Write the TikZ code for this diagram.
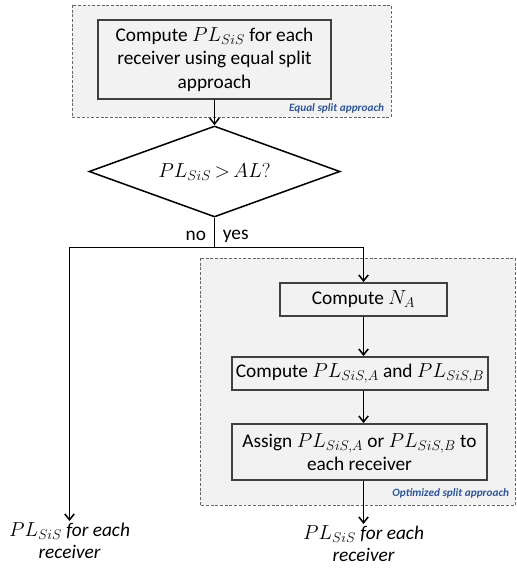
\documentclass[tikz,border=0pt]{standalone}
\usepackage{fontspec}
\setmainfont{Carlito}
\usetikzlibrary{shapes.geometric, arrows.meta}
\definecolor{regiongray}{RGB}{242,242,242}
\definecolor{boxedge}{RGB}{64,64,64}
\definecolor{tagblue}{RGB}{47,85,151}

\begin{document}
\begin{tikzpicture}[x=0.03cm, y=-0.03cm, >={Straight Barb[length=5pt,width=8pt]}, line width=1.3pt,
    every node/.style={font=\fontsize{16.5}{20}\selectfont},
    region/.style={draw=gray!80!black, fill=regiongray, line width=0.8pt, dash pattern=on 2.5pt off 1.5pt},
    procbox/.style={draw=boxedge, fill=regiongray, line width=1.6pt, align=center, inner sep=0pt},
    decision/.style={diamond, draw=black, line width=1.3pt, aspect=2.76, inner sep=0pt},
    regiontag/.style={font=\fontsize{9.6}{11}\selectfont\bfseries\itshape, text=tagblue, anchor=east, inner sep=1pt},
    result/.style={font=\fontsize{16.5}{18.7}\selectfont\itshape, align=center, inner sep=1pt},
    branchtag/.style={inner sep=1pt}]
    \useasboundingbox (0,0) rectangle (517,571);

    % 1. dashed regions of the two approaches
    \draw[region] (72,5) rectangle (391,117);
    \draw[region] (200,258) rectangle (515,505);
    \node[regiontag] (equalTag) at (386,108) {Equal split approach};
    \node[regiontag] (optTag) at (511,493) {Optimized split approach};

    % 2. equal split and the test
    \node[procbox, minimum width=6.99cm, minimum height=2.37cm] (equal) at (214.5,59.5)
        {Compute $PL_{SiS}$ for each\\receiver using equal split\\approach};
    \node[decision, minimum width=7.53cm, minimum height=2.73cm] (check) at (214.5,171.5)
        {\fontsize{18}{20}\selectfont$PL_{SiS}\,{>}\,AL?$};

    % 3. branch point
    \coordinate (fork) at (214.5,247.5);
    \coordinate (noTurn) at (69.5,247.5);
    \coordinate (yesTurn) at (363.5,247.5);
    \node[branchtag, anchor=east] (noTag) at (208,236) {no};
    \node[branchtag, anchor=west] (yesTag) at (221,236) {yes};

    % 4. optimized split steps
    \node[procbox, minimum width=5.01cm, minimum height=0.99cm] (na) at (363.5,299.5) {Compute $N_A$};
    \node[procbox, minimum width=7.68cm, minimum height=0.99cm] (pl) at (360,373.5)
        {Compute $PL_{SiS,A}$ and $PL_{SiS,B}$};
    \node[procbox, minimum width=7.65cm, minimum height=1.68cm] (assign) at (359.5,452)
        {Assign $PL_{SiS,A}$ or $PL_{SiS,B}$ to\\each receiver};

    % 5. results
    \node[result, anchor=north] (outNo) at (69.5,521) {$PL_{SiS}$ for each\\receiver};
    \node[result, anchor=north] (outYes) at (363.5,524) {$PL_{SiS}$ for each\\receiver};

    % 6. connectors
    \draw[->] (equal.south) -- (equal.south |- check.north);
    \draw (check.south) -- (fork);
    \draw[->] (fork) -- (noTurn) -- (outNo.north);
    \draw[->] (fork) -- (yesTurn) -- (yesTurn |- na.north);
    \draw[->] (na.south) -- (na.south |- pl.north);
    \draw[->] (na.south |- pl.south) -- (na.south |- assign.north);
    \draw[->] (na.south |- assign.south) -- (na.south |- outYes.north);
\end{tikzpicture}
\end{document}
